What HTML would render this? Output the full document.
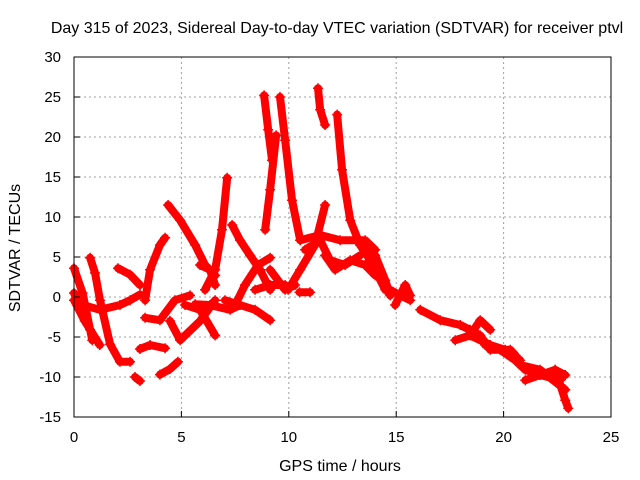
<!DOCTYPE html>
<html><head><meta charset="utf-8"><style>
body{margin:0;background:#fff;}
svg{display:block;font-family:"Liberation Sans",sans-serif;}
</style></head><body>
<svg id="chart" width="640" height="480" viewBox="0 0 640 480" xmlns="http://www.w3.org/2000/svg">
<rect width="640" height="480" fill="#fff"/>
<g id="grid"></g>
<g id="series"></g>
<g id="axes"></g>
<text x="337" y="33" font-size="16" text-anchor="middle">Day 315 of 2023, Sidereal Day-to-day VTEC variation (SDTVAR) for receiver ptvl</text>
<text x="340" y="471" font-size="16" text-anchor="middle">GPS time / hours</text>
<text x="20" y="248" font-size="16" text-anchor="middle" transform="rotate(-90 20 248)">SDTVAR / TECUs</text>
</svg>
<script>
const xTicks=[0,5,10,15,20,25];
const yTicks=[30,25,20,15,10,5,0,-5,-10,-15];
// tracks: arrays of [hour, TECU]
const tracks=[
[[0,3.6],[0.4,0.5],[0.85,-5.4]],
[[0,0.5],[0.4,-2],[0.75,-4.1]],
[[0,-0.4],[0.5,-3],[1.2,-6]],
[[0.75,4.9],[0.98,3],[1.21,-0.4],[1.68,-5.9],[2.14,-8.1],[2.61,-8.1]],
[[0.28,-0.9],[1.21,-1.6],[2.14,-1],[2.61,-0.4],[3.07,0.3]],
[[2.05,3.6],[2.61,2.8],[3.07,1.5]],
[[2.84,-10],[3.07,-10.5]],
[[3.07,-6.5],[3.54,-6],[4.24,-6.4]],
[[3.31,-0.4],[3.54,3.4],[4.0,6.5],[4.24,7.4]],
[[3.31,-2.6],[4.0,-2.9],[4.7,-0.4],[5.4,0.2]],
[[4.0,-9.7],[4.47,-9],[4.84,-8.1]],
[[4.38,11.5],[4.94,9.6],[5.64,6.5],[6.1,4],[6.57,2.7]],
[[4.47,-3],[4.94,-5.4],[5.87,-3],[6.57,-0.4]],
[[5.17,-1],[5.87,-1.6],[6.57,-4.8]],
[[5.64,-0.9],[6.33,-1],[7.27,-1.6],[7.73,-1]],
[[5.87,4],[6.33,3.4],[6.57,1.5]],
[[6.1,0.9],[6.57,3.4],[6.89,8.4],[7.13,14.9]],
[[7.03,-0.4],[7.73,-1],[8.43,-1.6],[9.13,-2.9]],
[[7.36,9],[7.73,7.1],[8.2,5.2],[8.66,3.4],[9.13,0.9]],
[[7.5,-1],[7.96,1.5],[8.57,4],[9.13,4.9]],
[[8.43,0.9],[9.13,1.5],[9.83,1.5]],
[[8.85,25.2],[9.04,20.9],[9.22,17.1]],
[[8.9,8.4],[9.13,13.4],[9.41,20.2]],
[[9.59,25],[9.83,19.6],[10.15,12.1],[10.53,7.1]],
[[9.13,3.4],[9.83,0.9],[10.29,1.5]],
[[9.97,0.9],[10.53,3.4],[11.22,6.5],[11.69,11.5]],
[[10.5,0.6],[10.99,0.6]],
[[11.36,26.1],[11.46,23.4],[11.69,21.5]],
[[12.25,22.8],[12.48,15.9],[12.86,9.6],[13.32,6.5],[13.79,4.6],[14.49,0.9]],
[[10.53,7.1],[11.46,7.75],[12.39,7.1],[13.55,7.1],[14.02,5.9]],
[[10.76,5.9],[11.46,7.1],[11.92,4.6],[12.62,4],[13.32,5.2]],
[[11.69,5.2],[12.16,3.4],[12.86,4.6],[13.55,4],[14.02,2.7]],
[[13.32,6.5],[14.02,5.2],[14.49,2.1],[14.72,0.2]],
[[14.72,0.9],[15.18,0.2],[15.65,-0.4]],
[[14.95,-1],[15.42,1.5],[15.65,0.2]],
[[16.12,-1.6],[17.05,-2.9],[17.98,-3.5],[18.44,-4.1]],
[[17.75,-5.4],[18.44,-4.8],[18.91,-2.9],[19.38,-4.1]],
[[17.98,-3.5],[18.91,-4.8],[19.38,-6.6],[20.31,-6.6],[20.54,-7.25]],
[[18.44,-4.8],[19.38,-6],[20.07,-6.6],[20.77,-7.9]],
[[19.14,-6],[19.84,-6.6],[20.54,-7.9],[21.01,-9.1],[21.7,-9.75],[22.64,-10.4]],
[[20.77,-8.5],[21.7,-9.1],[22.17,-10.1],[22.87,-11.6]],
[[21.01,-10.4],[21.7,-9.75],[22.4,-9.1],[22.87,-9.75]],
[[22.4,-9.1],[22.64,-11],[22.87,-12.9],[23.01,-13.9]]
];
const NS='http://www.w3.org/2000/svg';
const X0=74,X1=611,Y0=417,Y1=57;
function sx(t){return X0+(t-0)/(25-0)*(X1-X0);}
function sy(v){return Y0-(v-(-15))/(30-(-15))*(Y0-Y1);}
function mk(tag,attrs,parent){const e=document.createElementNS(NS,tag);for(const k in attrs)e.setAttribute(k,attrs[k]);parent.appendChild(e);return e;}
const grid=document.getElementById('grid'),axes=document.getElementById('axes'),ser=document.getElementById('series');
xTicks.forEach(t=>{
  if(t>0&&t<25){const g=mk('line',{x1:sx(t),x2:sx(t),y1:Y1,y2:Y0,stroke:'#a0a0a0','stroke-dasharray':'2,3'},grid);
  
  }
  const tk=mk('line',{x1:sx(t),x2:sx(t),y1:Y0,y2:Y0-6,stroke:'#000'},axes);
  
  
  const tx=mk('text',{x:sx(t),y:Y0+25,'font-size':15,'text-anchor':'middle'},axes);tx.textContent=t;
  
  
});
yTicks.forEach(v=>{
  if(v>-15&&v<30){const g=mk('line',{x1:X0,x2:X1,y1:sy(v),y2:sy(v),stroke:'#a0a0a0','stroke-dasharray':'2,3'},grid);
  
  }
  const tk=mk('line',{x1:X0,x2:X0+6,y1:sy(v),y2:sy(v),stroke:'#000'},axes);
  
  
  const tx=mk('text',{x:X0-13,y:sy(v)+5,'font-size':15,'text-anchor':'end'},axes);tx.textContent=v;
  
  
});
const frame=mk('rect',{x:X0,y:Y1,width:X1-X0,height:Y0-Y1,fill:'none',stroke:'#000'},axes);


tracks.forEach(tr=>{
  const pl=mk('polyline',{points:tr.map(p=>sx(p[0])+','+sy(p[1])).join(' '),fill:'none',stroke:'#f00','stroke-width':8,'stroke-linecap':'round','stroke-linejoin':'round'},ser);
  
  
  tr.forEach(p=>{
    const m=mk('path',{d:`M${sx(p[0])-5},${sy(p[1])}h10M${sx(p[0])},${sy(p[1])-5}v10`,stroke:'#f00','stroke-width':1.5},ser);
    
    
  });
});
</script>
</body></html>
